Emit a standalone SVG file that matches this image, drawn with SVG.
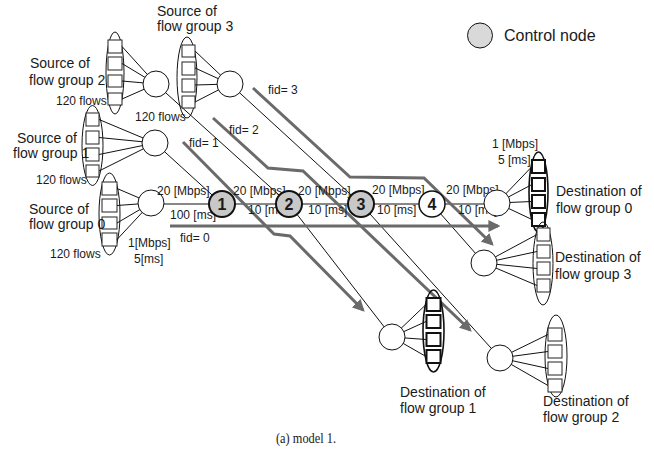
<svg xmlns="http://www.w3.org/2000/svg" width="654" height="456" viewBox="0 0 654 456">
<style>
text{font-family:"Liberation Sans",Arial,sans-serif;fill:#1a1a1a}
.t14{font-size:14px}
.t12{font-size:12px}
.t16{font-size:16px}
.cap{font-family:"Liberation Serif","Times New Roman",serif;font-size:15px}
.num{font-size:16px;font-weight:bold;text-anchor:middle}
.ell{fill:none;stroke:#111;stroke-width:1}
.ellb{fill:none;stroke:#111;stroke-width:1.6}
.box{fill:#fff;stroke:#222;stroke-width:1}
.boxb{fill:#fff;stroke:#111;stroke-width:2}
.rt{fill:#fff;stroke:#111;stroke-width:1}
.ctl{fill:#c8c8c8;stroke:#111;stroke-width:2}
.n4{fill:#fff;stroke:#111;stroke-width:1.5}
.ln{stroke:#111;stroke-width:1;fill:none}
.fid{stroke:#6a6a6a;stroke-width:3;fill:none;stroke-linejoin:miter}
</style>
<defs>
<marker id="ah" viewBox="0 0 10 10" refX="8" refY="5" markerWidth="4" markerHeight="4" orient="auto" markerUnits="strokeWidth">
<path d="M0,0 L10,5 L0,10 z" fill="#6a6a6a"/>
</marker>
</defs>

<g id="connectors">
<line class="ln" x1="151" y1="204" x2="497" y2="204"/>
<line class="ln" x1="155" y1="143" x2="222" y2="204"/>
<line class="ln" x1="156" y1="84" x2="289" y2="204"/>
<line class="ln" x1="230" y1="84" x2="361" y2="204"/>
<line class="ln" x1="289" y1="204" x2="392" y2="337"/>
<line class="ln" x1="361" y1="204" x2="500" y2="358"/>
<line class="ln" x1="432" y1="204" x2="484" y2="263"/>
<path class="fid" marker-end="url(#ah)" d="M170,226 L498,226"/>
<path class="fid" marker-end="url(#ah)" d="M183,142 L274,234 L290,236 L363,310"/>
<path class="fid" marker-end="url(#ah)" d="M213,118 L268,168 L303,171 L470,330"/>
<path class="fid" marker-end="url(#ah)" d="M253,88 L350,177 L424,178 L492,244"/>
</g>

<g id="src2">
<ellipse class="ell" cx="115" cy="73" rx="9" ry="41"/>
<rect class="box" x="108" y="40" width="14" height="13"/>
<rect class="box" x="108" y="57" width="14" height="13"/>
<rect class="box" x="108" y="75" width="14" height="12"/>
<rect class="box" x="108" y="93" width="14" height="12"/>
<path class="ln" d="M122,46.5 L156,84 M122,63.5 L156,84 M122,81 L156,84 M122,99 L156,84"/>
<circle class="rt" cx="156" cy="84" r="13"/>
<text class="t14" x="30" y="68">Source of</text>
<text class="t14" x="29" y="85">flow group 2</text>
<text class="t12" x="56" y="105">120 flows</text>
</g>

<g id="src3">
<ellipse class="ell" cx="187" cy="77.5" rx="10" ry="40.5"/>
<rect class="box" x="182" y="45" width="13" height="12"/>
<rect class="box" x="182" y="62" width="13" height="13"/>
<rect class="box" x="182" y="79" width="13" height="13"/>
<rect class="box" x="182" y="96" width="13" height="12"/>
<path class="ln" d="M195,51 L230,84 M195,68 L230,84 M195,85 L230,84 M195,102 L230,84"/>
<circle class="rt" cx="230" cy="84" r="13"/>
<text class="t14" x="157" y="16">Source of</text>
<text class="t14" x="157" y="31">flow group 3</text>
<text class="t12" x="135" y="121">120 flows</text>
</g>

<g id="src1">
<ellipse class="ell" cx="92.5" cy="145.5" rx="10.5" ry="40"/>
<rect class="box" x="86" y="113" width="13" height="13"/>
<rect class="box" x="86" y="131" width="13" height="13"/>
<rect class="box" x="86" y="148" width="13" height="13"/>
<rect class="box" x="86" y="165" width="13" height="12"/>
<path class="ln" d="M99,119.5 L155,143 M99,137.5 L155,143 M99,154.5 L155,143 M99,171 L155,143"/>
<circle class="rt" cx="155" cy="143" r="13"/>
<text class="t14" x="17" y="143">Source of</text>
<text class="t14" x="13" y="158">flow group 1</text>
<text class="t12" x="36" y="184">120 flows</text>
</g>

<g id="src0">
<ellipse class="ell" cx="109.5" cy="214" rx="10.5" ry="41"/>
<rect class="box" x="102" y="182" width="15" height="13"/>
<rect class="box" x="102" y="199" width="15" height="13"/>
<rect class="box" x="102" y="217" width="15" height="12"/>
<rect class="box" x="102" y="233" width="15" height="13"/>
<path class="ln" d="M117,188.5 L151,203 M117,205.5 L151,203 M117,223 L151,203 M117,239.5 L151,203"/>
<circle class="rt" cx="151" cy="203" r="13"/>
<text class="t14" x="29" y="214">Source of</text>
<text class="t14" x="29" y="229">flow group 0</text>
<text class="t12" x="50" y="258">120 flows</text>
<text class="t12" x="128" y="247">1[Mbps]</text>
<text class="t12" x="134" y="263">5[ms]</text>
</g>

<g id="labels">
<text class="t12" x="157" y="195">20 [Mbps]</text>
<text class="t12" x="170" y="219">100 [ms]</text>
<text class="t12" x="180" y="242">fid= 0</text>
<text class="t12" x="189" y="147">fid= 1</text>
<text class="t12" x="229" y="134">fid= 2</text>
<text class="t12" x="268" y="94">fid= 3</text>
<text class="t12" x="233" y="195">20 [Mbps],</text>
<text class="t12" x="248" y="214">10 [ms]</text>
<text class="t12" x="298" y="195">20 [Mbps],</text>
<text class="t12" x="308" y="214">10 [ms]</text>
<text class="t12" x="372" y="194">20 [Mbps],</text>
<text class="t12" x="377" y="214">10 [ms]</text>
<text class="t12" x="446" y="194">20 [Mbps],</text>
<text class="t12" x="458" y="214">10 [ms]</text>
<text class="t12" x="492" y="148">1 [Mbps]</text>
<text class="t12" x="498" y="164">5 [ms]</text>
</g>

<g id="node1">
<circle class="ctl" cx="222" cy="204" r="13"/>
<text class="num" x="222" y="210">1</text>
</g>
<g id="node2">
<circle class="ctl" cx="289" cy="204" r="13"/>
<text class="num" x="289" y="210">2</text>
</g>
<g id="node3">
<circle class="ctl" cx="361" cy="204" r="13"/>
<text class="num" x="361" y="210">3</text>
</g>
<g id="node4">
<circle class="n4" cx="432" cy="204" r="13"/>
<text class="num" x="432" y="210">4</text>
</g>

<g id="dst0">
<path class="ln" d="M497,203 L532,166.5 M497,203 L532,184.5 M497,203 L532,201.5 M497,203 L532,219.5"/>
<circle class="rt" cx="497" cy="203" r="13"/>
<ellipse class="ellb" cx="538.5" cy="192" rx="9.5" ry="40"/>
<rect class="boxb" x="532" y="160" width="13" height="13"/>
<rect class="boxb" x="532" y="178" width="13" height="13"/>
<rect class="boxb" x="532" y="195" width="13" height="13"/>
<rect class="boxb" x="532" y="213" width="13" height="13"/>
<text class="t14" x="556" y="196">Destination of</text>
<text class="t14" x="556" y="213">flow group 0</text>
</g>

<g id="dst3">
<path class="ln" d="M484,263 L537,234.5 M484,263 L537,251.5 M484,263 L537,268.5 M484,263 L537,285.5"/>
<circle class="rt" cx="484" cy="263" r="13"/>
<ellipse class="ell" cx="543" cy="263.5" rx="10" ry="41.5"/>
<rect class="box" x="537" y="228" width="13" height="13"/>
<rect class="box" x="537" y="245" width="13" height="13"/>
<rect class="box" x="537" y="262" width="13" height="13"/>
<rect class="box" x="537" y="279" width="13" height="13"/>
<text class="t14" x="555" y="262">Destination of</text>
<text class="t14" x="555" y="279">flow group 3</text>
</g>

<g id="dst1">
<path class="ln" d="M392,337 L426,304.5 M392,337 L426,321.5 M392,337 L426,339.5 M392,337 L426,356.5"/>
<circle class="rt" cx="392" cy="337" r="13"/>
<ellipse class="ellb" cx="433.5" cy="331" rx="10.5" ry="41"/>
<rect class="boxb" x="426.5" y="298" width="14" height="13"/>
<rect class="boxb" x="426.5" y="315" width="14" height="13"/>
<rect class="boxb" x="426.5" y="333" width="14" height="13"/>
<rect class="boxb" x="426.5" y="350" width="14" height="13"/>
<text class="t14" x="400" y="397">Destination of</text>
<text class="t14" x="400" y="413">flow group 1</text>
</g>

<g id="dst2">
<path class="ln" d="M500,358 L548,334.5 M500,358 L548,351.5 M500,358 L548,368.5 M500,358 L548,385.5"/>
<circle class="rt" cx="500" cy="358" r="13"/>
<ellipse class="ell" cx="556" cy="356" rx="11" ry="41"/>
<rect class="box" x="548" y="328" width="14" height="13"/>
<rect class="box" x="548" y="345" width="14" height="13"/>
<rect class="box" x="548" y="362" width="14" height="13"/>
<rect class="box" x="548" y="379" width="14" height="13"/>
<text class="t14" x="543" y="406">Destination of</text>
<text class="t14" x="543" y="422">flow group 2</text>
</g>

<g id="legend">
<circle cx="480" cy="35.5" r="12.5" fill="#d9d9d9" stroke="#111" stroke-width="1"/>
<text class="t16" x="504" y="41">Control node</text>
</g>

<text class="cap" x="276" y="443" textLength="60" lengthAdjust="spacingAndGlyphs">(a) model 1.</text>
</svg>
